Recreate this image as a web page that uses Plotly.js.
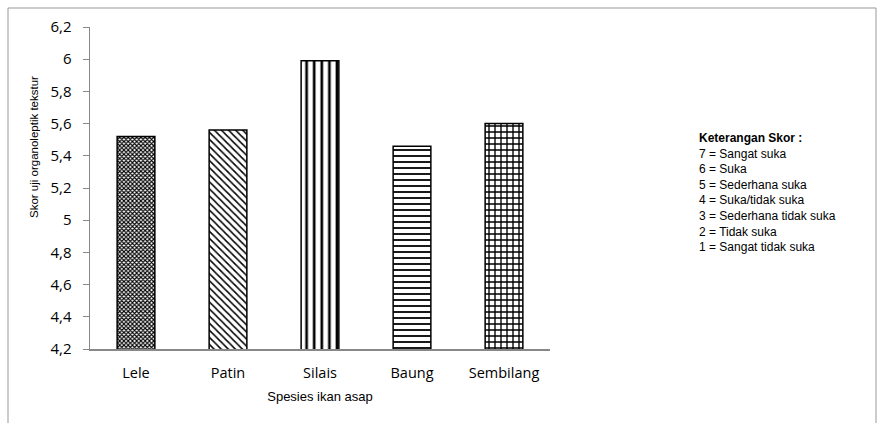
<!DOCTYPE html>
<html><head><meta charset="utf-8">
<script src="https://cdn.plot.ly/plotly-3.0.1.min.js"></script>
<style>html,body{margin:0;padding:0;background:#fff;}#c{width:877px;height:423px;}</style>
</head><body><div id="c"></div>
<script>
const categories = ["Lele", "Patin", "Silais", "Baung", "Sembilang"];
const scores = [5.52, 5.56, 5.99, 5.46, 5.60];
const patterns = ["x", "\\", "|", "-", "+"];
const legendLines = ["7 = Sangat suka", "6 = Suka", "5 = Sederhana suka", "4 = Suka/tidak suka", "3 = Sederhana tidak suka", "2 = Tidak suka", "1 = Sangat tidak suka"];
const yTicks = [4.2,4.4,4.6,4.8,5,5.2,5.4,5.6,5.8,6,6.2];
const yTickText = yTicks.map(v => String(v).replace('.', ','));

const trace = {
  type: 'bar', x: categories, y: scores, base: 0,
  marker: {
    color: '#ffffff',
    line: {color: '#000000', width: 1.5},
    pattern: {shape: patterns, fgcolor: '#000000', bgcolor: '#ffffff', size: [3, 5, 7.6, 6, 6], solidity: [0.6, 0.3, 0.35, 0.3, 0.4], fillmode: 'replace'}
  },
  hoverinfo: 'skip'
};

const annText = '<b>Keterangan Skor :</b><br>' + legendLines.join('<br>');

const layout = {
  width: 877, height: 423,
  margin: {l: 90, r: 327, t: 27, b: 74},
  paper_bgcolor: '#ffffff', plot_bgcolor: '#ffffff',
  showlegend: false,
  bargap: 0.59,
  font: {family: 'Liberation Sans, Arial, sans-serif', color: '#000'},
  xaxis: {
    showline: true, linecolor: '#888888', linewidth: 1.5, ticks: '', showgrid: false,
    ticklabelstandoff: 10,
    tickfont: {family: 'Open Sans, sans-serif', size: 14.5, color: '#000'},
    title: {text: 'Spesies ikan asap', font: {size: 13, color: '#000'}, standoff: 11}
  },
  yaxis: {
    range: [4.2, 6.2], tickvals: yTicks, ticktext: yTickText,
    showline: true, linecolor: '#888888', linewidth: 1.5, ticks: 'outside', ticklen: 6, tickcolor: '#888888',
    showgrid: false, zeroline: false, ticklabelstandoff: 8,
    tickfont: {family: 'Open Sans, sans-serif', size: 15, color: '#000'}
  },
  annotations: [{
    xref: 'paper', yref: 'paper', x: (697-90)/460, y: 1 - (129-27)/322, xanchor: 'left', yanchor: 'top',
    text: annText, align: 'left', showarrow: false,
    font: {family: 'Liberation Sans, Arial, sans-serif', size: 12, color: '#000'}
  }, {
    xref: 'paper', yref: 'paper', x: (34-90)/460, y: 1 - (147-27)/322, xanchor: 'center', yanchor: 'middle',
    text: 'Skor uji organoleptik tekstur', textangle: -90, showarrow: false,
    font: {family: 'Liberation Sans, Arial, sans-serif', size: 11.5, color: '#000'}
  }],
  shapes: [{
    type: 'rect', xref: 'paper', yref: 'paper',
    x0: -82/460, x1: 786/460, y0: -0.3, y1: 1 + 19/322,
    line: {color: '#999999', width: 1}, fillcolor: 'rgba(0,0,0,0)', layer: 'below'
  }]
};

Plotly.newPlot('c', [trace], layout, {displayModeBar: false, staticPlot: true});
</script></body></html>
